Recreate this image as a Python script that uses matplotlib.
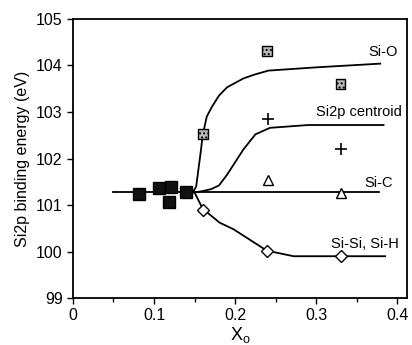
import matplotlib
matplotlib.use('Agg')
import matplotlib.pyplot as plt
import numpy as np

plt.rcParams['font.family'] = ['Liberation Sans', 'DejaVu Sans']

# measured points
sq_x = [0.082, 0.106, 0.121, 0.118, 0.139]
sq_y = [101.23, 101.37, 101.39, 101.06, 101.27]
sio_x = [0.160, 0.239, 0.330]
sio_y = [102.52, 104.31, 103.60]
cen_x = [0.240, 0.330]
cen_y = [102.85, 102.20]
sic_x = [0.240, 0.330]
sic_y = [101.54, 101.26]
sisi_x = [0.160, 0.239, 0.330]
sisi_y = [100.89, 100.02, 99.90]

# fitted curves
sio_cx = [0.148, 0.152, 0.155, 0.158, 0.160, 0.165, 0.171, 0.180, 0.190, 0.210, 0.223, 0.241, 0.300, 0.379]
sio_cy = [101.27, 101.40, 101.80, 102.20, 102.50, 102.90, 103.10, 103.35, 103.53, 103.72, 103.80, 103.89, 103.96, 104.04]
cen_cx = [0.150, 0.160, 0.170, 0.180, 0.190, 0.200, 0.210, 0.225, 0.243, 0.290, 0.383]
cen_cy = [101.27, 101.30, 101.34, 101.42, 101.65, 101.92, 102.19, 102.52, 102.66, 102.72, 102.72]
sic_cx = [0.050, 0.377]
sic_cy = [101.27, 101.27]
sisi_cx = [0.150, 0.160, 0.181, 0.198, 0.239, 0.272, 0.385]
sisi_cy = [101.27, 100.92, 100.62, 100.48, 100.02, 99.90, 99.90]

fig = plt.figure(figsize=(4.12, 3.45), dpi=100)
ax = fig.add_axes([0.177, 0.136, 0.811, 0.809])

lw = 1.3
ax.plot(sic_cx, sic_cy, color='black', lw=lw)
ax.plot(sio_cx, sio_cy, color='black', lw=lw)
ax.plot(cen_cx, cen_cy, color='black', lw=lw)
ax.plot(sisi_cx, sisi_cy, color='black', lw=lw)

ax.plot(sq_x, sq_y, 's', ms=8.5, mfc='#111111', mec='black', ls='none')
ax.scatter(sio_x, sio_y, marker='s', s=50, facecolor='#bbbbbb', edgecolor='black',
           linewidth=1.0, hatch='....', zorder=3)
ax.plot(cen_x, cen_y, '+', ms=8, color='black', mew=1.2, ls='none')
ax.plot(sic_x, sic_y, '^', ms=7, mfc='white', mec='black', mew=1.0, ls='none')
ax.plot(sisi_x, sisi_y, 'D', ms=6, mfc='white', mec='black', mew=1.0, ls='none')

ax.text(0.400, 104.3, 'Si-O', ha='right', va='center', fontsize=10.5)
ax.text(0.405, 102.99, 'Si2p centroid', ha='right', va='center', fontsize=10.5)
ax.text(0.394, 101.47, 'Si-C', ha='right', va='center', fontsize=10.5)
ax.text(0.402, 100.16, 'Si-Si, Si-H', ha='right', va='center', fontsize=10.5)

ax.set_xlim(0, 0.412)
ax.set_ylim(99, 105)
ax.set_xticks([0, 0.1, 0.2, 0.3, 0.4])
ax.set_xticklabels(['0', '0.1', '0.2', '0.3', '0.4'])
ax.set_xticks(np.arange(0.05, 0.41, 0.1), minor=True)
ax.set_yticks([99, 100, 101, 102, 103, 104, 105])
ax.tick_params(axis='both', which='both', direction='out', labelsize=11.5, width=1)
ax.tick_params(which='major', length=4)
ax.tick_params(which='minor', length=3)
for s in ax.spines.values():
    s.set_linewidth(1.3)

ax.set_xlabel('X$_\\mathregular{o}$', fontsize=13, labelpad=1)
ax.set_ylabel('Si2p binding energy (eV)', fontsize=11.5, labelpad=4)

plt.savefig('out.png', dpi=100)
